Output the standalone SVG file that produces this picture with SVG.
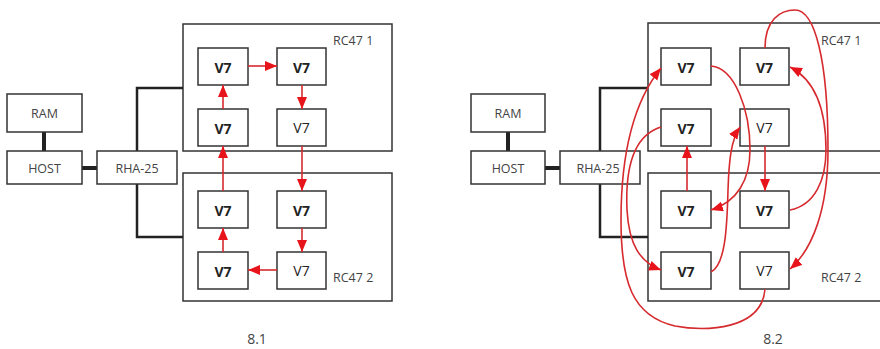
<svg xmlns="http://www.w3.org/2000/svg" width="880" height="349" viewBox="0 0 880 349">
<style>
.box{fill:#fff;stroke:#333;stroke-width:1.5}
.frame{fill:none;stroke:#333;stroke-width:1.5}
.wire{fill:none;stroke:#222;stroke-width:2.5}
.thick{fill:none;stroke:#222;stroke-width:4}
.red{fill:none;stroke:#d62a2e;stroke-width:1.6;marker-end:url(#ah)}
.t{font-family:"Open Sans","Liberation Sans",sans-serif;font-size:12.5px;fill:#444;text-anchor:middle;dominant-baseline:central}
.v{font-family:"Open Sans","Liberation Sans",sans-serif;font-size:14px;fill:#222;text-anchor:middle;dominant-baseline:central}
.b{font-weight:bold}
.lbl{font-family:"Open Sans","Liberation Sans",sans-serif;font-size:12.5px;fill:#444;dominant-baseline:central}
.cap{font-family:"Open Sans","Liberation Sans",sans-serif;font-size:14px;fill:#444;text-anchor:middle;dominant-baseline:central}
</style>
<defs>
<marker id="ah" markerUnits="userSpaceOnUse" markerWidth="13" markerHeight="11" refX="12" refY="5" orient="auto">
<path d="M0,0 L12,5 L0,10 z" fill="#e8141b"/>
</marker>
</defs>
<rect width="880" height="349" fill="#fff"/>

<!-- Diagram 8.1 -->
<g id="d1-frames">
<rect id="d1-rc47-1" class="frame" x="183" y="24" width="209" height="127"/>
<rect id="d1-rc47-2" class="frame" x="183" y="173" width="209" height="128"/>
<text class="lbl" x="333" y="40">RC47 1</text>
<text class="lbl" x="333" y="277">RC47 2</text>
</g>
<g id="d1-wires">
<line class="thick" x1="44" y1="132" x2="44" y2="151"/>
<line class="thick" x1="82" y1="168" x2="97" y2="168"/>
<polyline class="wire" points="137,151 137,88 183,88"/>
<polyline class="wire" points="137,184 137,237 183,237"/>
</g>
<g id="d1-ram"><rect class="box" x="7" y="94" width="75" height="38"/><text class="t" x="44.5" y="113">RAM</text></g>
<g id="d1-host"><rect class="box" x="7" y="151" width="75" height="33"/><text class="t" x="44.5" y="168">HOST</text></g>
<g id="d1-rha"><rect class="box" x="97" y="151" width="80" height="33"/><text class="t" x="137" y="168">RHA-25</text></g>
<g id="d1-v7-a"><rect class="box" x="198" y="48" width="50" height="37"/><text class="v b" x="223" y="67">V7</text></g>
<g id="d1-v7-b"><rect class="box" x="277" y="48" width="49" height="37"/><text class="v b" x="301.5" y="67">V7</text></g>
<g id="d1-v7-c"><rect class="box" x="198" y="109" width="50" height="37"/><text class="v b" x="223" y="128">V7</text></g>
<g id="d1-v7-d"><rect class="box" x="277" y="109" width="49" height="37"/><text class="v" x="301.5" y="127">V7</text></g>
<g id="d1-v7-e"><rect class="box" x="198" y="191" width="50" height="37"/><text class="v b" x="223" y="210">V7</text></g>
<g id="d1-v7-f"><rect class="box" x="277" y="191" width="49" height="37"/><text class="v b" x="301.5" y="210">V7</text></g>
<g id="d1-v7-g"><rect class="box" x="198" y="252" width="50" height="37"/><text class="v b" x="223" y="271">V7</text></g>
<g id="d1-v7-h"><rect class="box" x="277" y="252" width="49" height="37"/><text class="v" x="301.5" y="270">V7</text></g>
<g id="d1-connectors">
<line class="red" x1="248" y1="66" x2="277" y2="66"/>
<line class="red" x1="302" y1="85" x2="302" y2="109"/>
<line class="red" x1="302" y1="146" x2="302" y2="191"/>
<line class="red" x1="302" y1="228" x2="302" y2="252"/>
<line class="red" x1="277" y1="270" x2="248" y2="270"/>
<line class="red" x1="223" y1="252" x2="223" y2="228"/>
<line class="red" x1="223" y1="191" x2="223" y2="146"/>
<line class="red" x1="223" y1="109" x2="223" y2="85"/>
</g>
<text id="d1-caption" class="cap" x="257" y="338">8.1</text>

<!-- Diagram 8.2 -->
<g id="d2-frames">
<rect id="d2-rc47-1" class="frame" x="648" y="23" width="260" height="128"/>
<rect id="d2-rc47-2" class="frame" x="648" y="173" width="260" height="128"/>
<text class="lbl" x="821" y="40">RC47 1</text>
<text class="lbl" x="821" y="277">RC47 2</text>
</g>
<g id="d2-wires">
<line class="thick" x1="508" y1="132" x2="508" y2="151"/>
<line class="thick" x1="544" y1="168" x2="560" y2="168"/>
<polyline class="wire" points="600,151 600,88 648,88"/>
<polyline class="wire" points="600,184 600,237 648,237"/>
</g>
<g id="d2-ram"><rect class="box" x="471" y="94" width="74" height="38"/><text class="t" x="508" y="113">RAM</text></g>
<g id="d2-host"><rect class="box" x="471" y="151" width="74" height="33"/><text class="t" x="508" y="168">HOST</text></g>
<g id="d2-rha"><rect class="box" x="560" y="151" width="80" height="33"/><text class="t" x="598" y="168">RHA-25</text></g>
<g id="d2-v7-a"><rect class="box" x="661" y="48" width="50" height="37"/><text class="v b" x="686" y="67">V7</text></g>
<g id="d2-v7-b"><rect class="box" x="740" y="48" width="49" height="37"/><text class="v b" x="764.5" y="67">V7</text></g>
<g id="d2-v7-c"><rect class="box" x="661" y="109" width="50" height="37"/><text class="v b" x="686" y="128">V7</text></g>
<g id="d2-v7-d"><rect class="box" x="740" y="109" width="49" height="37"/><text class="v" x="764.5" y="127">V7</text></g>
<g id="d2-v7-e"><rect class="box" x="661" y="191" width="50" height="37"/><text class="v b" x="686" y="210">V7</text></g>
<g id="d2-v7-f"><rect class="box" x="740" y="191" width="49" height="37"/><text class="v b" x="764.5" y="210">V7</text></g>
<g id="d2-v7-g"><rect class="box" x="661" y="252" width="50" height="37"/><text class="v b" x="686" y="271">V7</text></g>
<g id="d2-v7-h"><rect class="box" x="740" y="252" width="49" height="37"/><text class="v" x="764.5" y="270">V7</text></g>
<g id="d2-connectors">
<line class="red" x1="765" y1="146" x2="765" y2="191"/>
<line class="red" x1="687" y1="191" x2="687" y2="146"/>
<path class="red" d="M711,66 C735,68 750,110 750,150 C750,180 737,202 711,210"/>
<path class="red" d="M711,272 C725,265 727,230 728,190 C729,160 731,140 740,127"/>
<path class="red" d="M661,127 C635,135 625,165 627,210 C629,245 640,262 661,270"/>
<path class="red" d="M765,289 C762,330 705,332 675,326 C632,316 621,282 621,220 C621,150 635,100 661,68"/>
<path class="red" d="M765,48 C765,20 780,10 795,10 C815,10 828,60 828,150 C828,210 812,250 790,269"/>
<path class="red" d="M790,210 C815,205 826,180 826,150 C826,110 815,80 790,67"/>
</g>
<text id="d2-caption" class="cap" x="773" y="338">8.2</text>
</svg>
